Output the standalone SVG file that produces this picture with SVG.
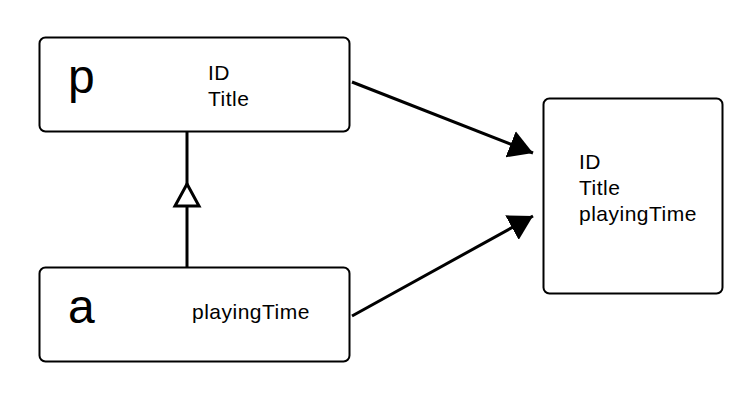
<svg xmlns="http://www.w3.org/2000/svg" width="755" height="400" viewBox="0 0 755 400">
<style>
.box{fill:#fff;stroke:#000;stroke-width:2}
.t{font-family:"Liberation Sans",Arial,sans-serif;font-size:21px;letter-spacing:0.5px;fill:#000}
.big{font-family:"Liberation Sans",Arial,sans-serif;font-size:48px;fill:#000}
.edge{stroke:#000;stroke-width:3;fill:none}
</style>
<defs>
<marker id="arr" markerUnits="userSpaceOnUse" viewBox="0 -14 24 28" markerWidth="24" markerHeight="28" refX="24" refY="0" orient="auto">
<path d="M0,-14 L24,0 L0,14 Z" fill="#000"/>
</marker>
</defs>
<rect width="755" height="400" fill="#fff"/>
<g id="connectors">
<line class="edge" x1="187" y1="132" x2="187" y2="267"/>
<polygon points="187,184 175,206 199,206" fill="#fff" stroke="#000" stroke-width="3"/>
<line class="edge" x1="352" y1="82" x2="533" y2="153" marker-end="url(#arr)"/>
<line class="edge" x1="352" y1="316" x2="533" y2="216" marker-end="url(#arr)"/>
</g>
<g id="node-p">
<rect class="box" x="39.5" y="37.5" width="310" height="94" rx="6"/>
<text class="big" x="68" y="93">p</text>
<text class="t" x="208" y="80">ID</text>
<text class="t" x="208" y="106">Title</text>
</g>
<g id="node-a">
<rect class="box" x="39.5" y="267.5" width="310" height="94" rx="6"/>
<text class="big" x="68" y="323">a</text>
<text class="t" x="192" y="319">playingTime</text>
</g>
<g id="node-target">
<rect class="box" x="543.5" y="98.5" width="179" height="195" rx="6"/>
<text class="t" x="579" y="169">ID</text>
<text class="t" x="579" y="195">Title</text>
<text class="t" x="579" y="221">playingTime</text>
</g>
</svg>
